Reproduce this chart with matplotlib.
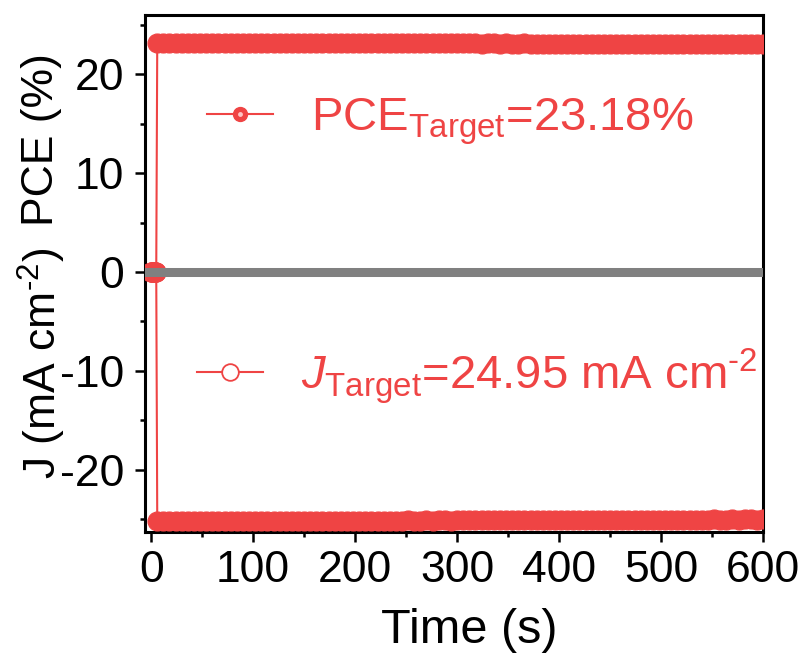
import matplotlib
matplotlib.use("Agg")
import matplotlib.pyplot as plt
from matplotlib.lines import Line2D
from matplotlib.legend_handler import HandlerTuple
from matplotlib.ticker import MultipleLocator

plt.rcParams['font.family'] = 'Liberation Sans'
plt.rcParams['mathtext.fontset'] = 'custom'
plt.rcParams['mathtext.rm'] = 'Liberation Sans'
plt.rcParams['mathtext.it'] = 'Liberation Sans:italic'
plt.rcParams['axes.unicode_minus'] = False

# --- stability data (tracking every 6 s after the light is switched on) ---
time_off = [0, 1, 2, 3, 4, 5]
pce_off = [0, 0, 0, 0, 0, 0]
j_off = [0, 0, 0, 0, 0, 0]

time_on = list(range(6, 601, 6))
pce_on = [
    23.21, 23.22, 23.20, 23.21, 23.19, 23.20, 23.21, 23.19, 23.18, 23.20,
    23.19, 23.18, 23.20, 23.19, 23.17, 23.18, 23.19, 23.18, 23.17, 23.18,
    23.19, 23.17, 23.16, 23.18, 23.17, 23.18, 23.16, 23.17, 23.18, 23.16,
    23.17, 23.15, 23.16, 23.17, 23.16, 23.15, 23.17, 23.16, 23.15, 23.16,
    23.14, 23.15, 23.16, 23.14, 23.15, 23.13, 23.15, 23.14, 23.13, 23.15,
    23.14, 23.13, 23.14, 23.12, 23.13, 23.14, 23.12, 23.13, 23.12, 23.11,
    23.13, 23.12, 23.11, 23.12, 23.10, 23.12, 23.11, 23.10, 23.11, 23.12,
    23.10, 23.11, 23.09, 23.10, 23.11, 23.09, 23.10, 23.08, 23.10, 23.09,
    23.08, 23.09, 23.10, 23.08, 23.07, 23.09, 23.08, 23.07, 23.08, 23.06,
    23.08, 23.07, 23.06, 23.07, 23.05, 23.07, 23.06, 23.05, 23.06, 23.05,
]
j_on = [
    -25.22, -25.23, -25.21, -25.22, -25.20, -25.21, -25.22, -25.20, -25.19, -25.21,
    -25.20, -25.19, -25.21, -25.19, -25.18, -25.20, -25.19, -25.18, -25.19, -25.17,
    -25.18, -25.19, -25.17, -25.18, -25.16, -25.18, -25.17, -25.16, -25.17, -25.18,
    -25.16, -25.15, -25.17, -25.16, -25.15, -25.16, -25.14, -25.15, -25.16, -25.14,
    -25.15, -25.13, -25.14, -25.15, -25.13, -25.14, -25.12, -25.13, -25.14, -25.12,
    -25.13, -25.11, -25.12, -25.13, -25.11, -25.12, -25.10, -25.11, -25.12, -25.10,
    -25.11, -25.09, -25.10, -25.11, -25.09, -25.10, -25.08, -25.09, -25.10, -25.08,
    -25.09, -25.07, -25.08, -25.09, -25.07, -25.08, -25.06, -25.07, -25.08, -25.06,
    -25.07, -25.05, -25.06, -25.07, -25.05, -25.06, -25.04, -25.05, -25.06, -25.04,
    -25.05, -25.03, -25.04, -25.05, -25.03, -25.04, -25.02, -25.03, -25.04, -25.02,
]

time_s = time_off + time_on
pce = pce_off + pce_on
jsc = j_off + j_on

HY = '\u2010'  # plain hyphen for the superscript exponent
pce_label = r'PCE$_{\mathrm{Target}}$=23.18%'
j_label = r'$J_{\mathrm{Target}}$=24.95 mA cm$^{' + HY + r'2}$'

red = '#EF4444'
fs = 32

fig = plt.figure(figsize=(8.07, 6.54), dpi=100)
ax = fig.add_axes([0.1797, 0.1865, 0.7658, 0.7905])

ax.plot(time_s, pce, '-o', color=red, lw=1.5, ms=13.7, mfc=red, mec=red, mew=0.8, zorder=3)
ax.plot(time_s, jsc, '-o', color=red, lw=1.5, ms=13.7, mfc=red, mec=red, mew=0.8, zorder=3)
ax.axhline(0, color='#808080', lw=6.5, zorder=4)

ax.set_xlim(-6, 600)
ax.set_ylim(-26.3, 26)
ax.xaxis.set_major_locator(MultipleLocator(100))
ax.xaxis.set_minor_locator(MultipleLocator(50))
ax.yaxis.set_major_locator(MultipleLocator(10))
ax.yaxis.set_minor_locator(MultipleLocator(5))
ax.tick_params(which='both', direction='out', width=1.8, top=False, right=False)
ax.tick_params(which='major', length=7.2, labelsize=fs)
ax.tick_params(which='minor', length=3.6)
ax.tick_params(axis='y', which='major', pad=8)
ax.tick_params(axis='x', which='major', pad=6)
for sp in ax.spines.values():
    sp.set_linewidth(2.2)

ax.set_xlabel('Time (s)', fontsize=35)
ax.xaxis.set_label_coords(0.525, -0.147)
fig.text(0.052, 0.787, 'PCE (%)', rotation=90, ha='center', va='center', fontsize=fs)
fig.text(0.052, 0.445, r'J (mA cm$^{' + HY + r'2}$)', rotation=90,
         ha='center', va='center', fontsize=fs)

# legend samples drawn as two separate entries
pce_handle = (Line2D([], [], color=red, lw=1.5, marker='o', ms=10, mfc=red, mec=red),
              Line2D([], [], ls='none', marker='o', ms=3.5, mfc='#FFC4C4', mec='none'))
j_handle = Line2D([], [], color=red, lw=1.5, marker='o', ms=12, mfc='white', mec=red, mew=1.3)

leg1 = fig.legend([pce_handle], [pce_label], loc='center left',
                  bbox_to_anchor=(207 / 807, 1 - 122 / 654), bbox_transform=fig.transFigure,
                  frameon=False, fontsize=34, handlelength=1.4, handletextpad=0.8,
                  borderpad=0, borderaxespad=0,
                  handler_map={tuple: HandlerTuple(ndivide=1, pad=0)})
for t in leg1.get_texts():
    t.set_color(red)
leg2 = fig.legend([j_handle], [j_label], loc='center left',
                  bbox_to_anchor=(197 / 807, 1 - 376 / 654), bbox_transform=fig.transFigure,
                  frameon=False, fontsize=34, handlelength=1.4, handletextpad=0.8,
                  borderpad=0, borderaxespad=0)
for t in leg2.get_texts():
    t.set_color(red)

fig.savefig('out.png', dpi=100)
